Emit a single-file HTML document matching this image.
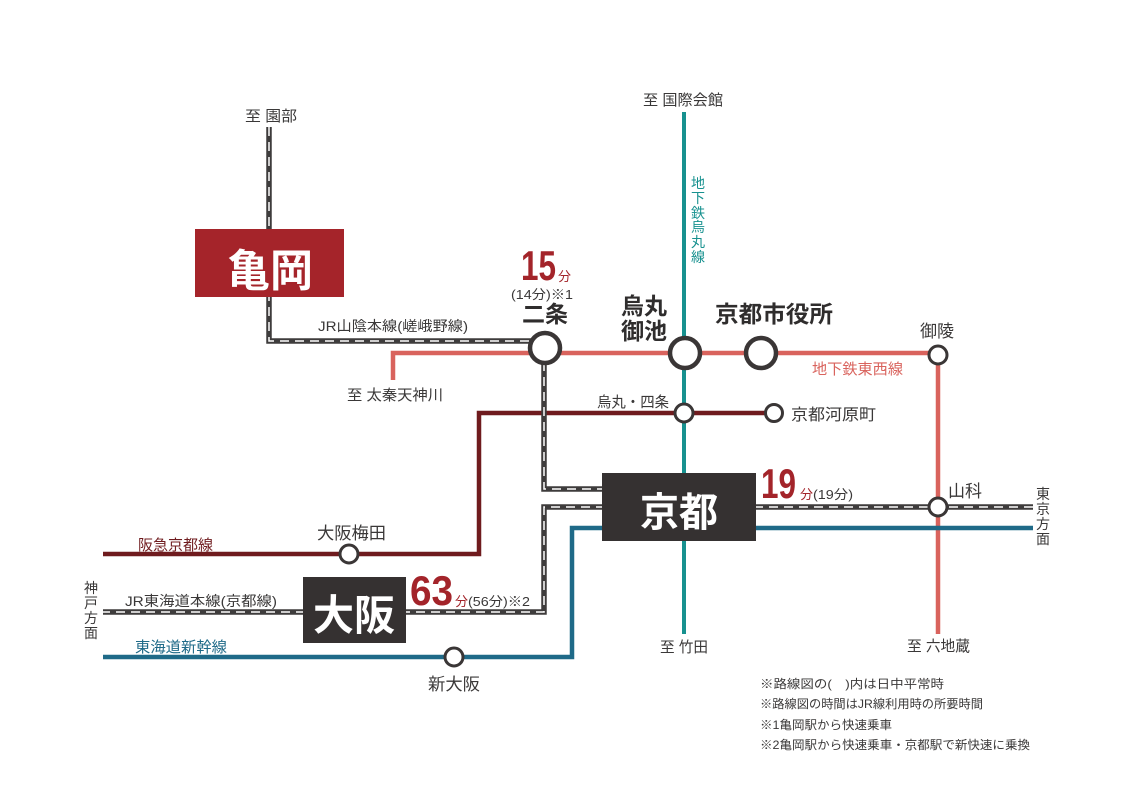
<!DOCTYPE html>
<html><head><meta charset="utf-8"><style>
html,body{margin:0;padding:0;background:#fff;}
svg{display:block;}
text{font-family:"Liberation Sans","Noto Sans CJK JP",sans-serif;fill:#3a3838;}
.num{font-family:"Liberation Sans",sans-serif;font-weight:bold;fill:#a3242a;}
.red{fill:#a3242a;}
.wt{fill:#fff;font-weight:bold;}
.st{font-weight:600;fill:#2f2d2d;}
</style></head><body>
<svg width="1121" height="800" viewBox="0 0 1121 800" xmlns="http://www.w3.org/2000/svg">
<rect width="1121" height="800" fill="#fff"/>
<!-- Subway Tozai (salmon) -->
<path d="M393,380 V353 H938 V634" fill="none" stroke="#d9635d" stroke-width="4.5"/>
<!-- Subway Karasuma (teal) -->
<path d="M684,112 V634" fill="none" stroke="#17918f" stroke-width="4"/>
<!-- Hankyu -->
<path d="M103,554 H479 V413 H774" fill="none" stroke="#6f1b1e" stroke-width="4.5"/>
<!-- Shinkansen -->
<path d="M103,657 H572 V528 H1033" fill="none" stroke="#1f6a88" stroke-width="4.5"/>
<!-- JR lines -->
<g fill="none">
<path d="M269,127 V341 H532" stroke="#3e3c3c" stroke-width="5.5"/>
<path d="M269,127 V341 H532" stroke="#fff" stroke-width="1.5" stroke-dasharray="9 6"/>
<path d="M544,362 V489 H605" stroke="#3e3c3c" stroke-width="5.5"/>
<path d="M544,362 V489 H605" stroke="#fff" stroke-width="1.5" stroke-dasharray="9 6"/>
<path d="M605,507 H544 V612 H103" stroke="#3e3c3c" stroke-width="5.5"/>
<path d="M605,507 H544 V612 H103" stroke="#fff" stroke-width="1.5" stroke-dasharray="9 6"/>
<path d="M754,507 H1033" stroke="#3e3c3c" stroke-width="5.5"/>
<path d="M754,507 H1033" stroke="#fff" stroke-width="1.5" stroke-dasharray="9 6"/>
</g>
<!-- Boxes -->
<rect x="195" y="229" width="149" height="68" fill="#a5242a"/>
<rect x="602" y="473" width="154" height="68" fill="#353131"/>
<rect x="303" y="577" width="103" height="66" fill="#353131"/>
<text x="270" y="286" class="wt" font-size="44" text-anchor="middle" textLength="86" lengthAdjust="spacingAndGlyphs">亀岡</text>
<text x="679" y="526" class="wt" font-size="40" text-anchor="middle" textLength="78" lengthAdjust="spacingAndGlyphs">京都</text>
<text x="354" y="630" class="wt" font-size="42" text-anchor="middle" textLength="82" lengthAdjust="spacingAndGlyphs">大阪</text>
<!-- Stations -->
<g fill="#fff" stroke="#3a3636">
<circle cx="545" cy="348" r="15" stroke-width="4.5"/>
<circle cx="685" cy="353" r="15" stroke-width="4.5"/>
<circle cx="761" cy="353" r="15" stroke-width="4.5"/>
<circle cx="938" cy="355" r="9" stroke-width="3"/>
<circle cx="684" cy="413" r="9" stroke-width="3"/>
<circle cx="774" cy="413" r="8.5" stroke-width="3"/>
<circle cx="938" cy="507" r="9" stroke-width="3"/>
<circle cx="349" cy="554" r="9" stroke-width="3"/>
<circle cx="454" cy="657" r="9" stroke-width="3"/>
</g>
<!-- Labels -->
<text x="245" y="121" font-size="15" textLength="52" lengthAdjust="spacingAndGlyphs">至 園部</text>
<text x="643" y="105" font-size="15" textLength="80" lengthAdjust="spacingAndGlyphs">至 国際会館</text>
<g font-size="14" text-anchor="middle" style="fill:#17918f">
<text x="698" y="188" style="fill:#17918f">地</text>
<text x="698" y="203" style="fill:#17918f">下</text>
<text x="698" y="218" style="fill:#17918f">鉄</text>
<text x="698" y="232" style="fill:#17918f">烏</text>
<text x="698" y="247" style="fill:#17918f">丸</text>
<text x="698" y="262" style="fill:#17918f">線</text>
</g>
<text x="318" y="331" font-size="14" textLength="150" lengthAdjust="spacingAndGlyphs">JR山陰本線(嵯峨野線)</text>
<text x="347" y="400" font-size="15" textLength="96" lengthAdjust="spacingAndGlyphs">至 太秦天神川</text>
<text x="521" y="280" class="num" font-size="42" textLength="35" lengthAdjust="spacingAndGlyphs">15</text>
<text x="558" y="281" class="red" font-size="13">分</text>
<text x="511" y="299" font-size="13" textLength="62" lengthAdjust="spacingAndGlyphs">(14分)※1</text>
<text x="522" y="322" class="st" font-size="23" textLength="46" lengthAdjust="spacingAndGlyphs">二条</text>
<text x="621" y="314" class="st" font-size="23" textLength="46" lengthAdjust="spacingAndGlyphs">烏丸</text>
<text x="621" y="339" class="st" font-size="23" textLength="46" lengthAdjust="spacingAndGlyphs">御池</text>
<text x="715" y="322" class="st" font-size="23" textLength="118" lengthAdjust="spacingAndGlyphs">京都市役所</text>
<text x="920" y="337" font-size="17" textLength="34" lengthAdjust="spacingAndGlyphs">御陵</text>
<text x="812" y="374" font-size="15" style="fill:#d9635d" textLength="91" lengthAdjust="spacingAndGlyphs">地下鉄東西線</text>
<text x="597" y="407" font-size="15" textLength="72" lengthAdjust="spacingAndGlyphs">烏丸・四条</text>
<text x="791" y="420" font-size="16" textLength="85" lengthAdjust="spacingAndGlyphs">京都河原町</text>
<text x="761" y="498" class="num" font-size="42" textLength="35" lengthAdjust="spacingAndGlyphs">19</text>
<text x="800" y="499" class="red" font-size="13">分</text>
<text x="813" y="499" font-size="13" textLength="40" lengthAdjust="spacingAndGlyphs">(19分)</text>
<text x="948" y="497" font-size="17" textLength="34" lengthAdjust="spacingAndGlyphs">山科</text>
<g font-size="14" text-anchor="middle">
<text x="1043" y="499">東</text>
<text x="1043" y="514">京</text>
<text x="1043" y="529">方</text>
<text x="1043" y="544">面</text>
</g>
<g font-size="14" text-anchor="middle">
<text x="91" y="593">神</text>
<text x="91" y="608">戸</text>
<text x="91" y="623">方</text>
<text x="91" y="638">面</text>
</g>
<text x="138" y="550" font-size="15" style="fill:#6f1b1e" textLength="75" lengthAdjust="spacingAndGlyphs">阪急京都線</text>
<text x="317" y="539" font-size="17" textLength="69" lengthAdjust="spacingAndGlyphs">大阪梅田</text>
<text x="125" y="606" font-size="14" textLength="152" lengthAdjust="spacingAndGlyphs">JR東海道本線(京都線)</text>
<text x="410" y="605" class="num" font-size="42" textLength="43" lengthAdjust="spacingAndGlyphs">63</text>
<text x="455" y="606" class="red" font-size="13">分</text>
<text x="468" y="606" font-size="13" textLength="62" lengthAdjust="spacingAndGlyphs">(56分)※2</text>
<text x="135" y="652" font-size="15" style="fill:#1f6a88" textLength="92" lengthAdjust="spacingAndGlyphs">東海道新幹線</text>
<text x="428" y="690" font-size="17" textLength="52" lengthAdjust="spacingAndGlyphs">新大阪</text>
<text x="660" y="652" font-size="15" textLength="48" lengthAdjust="spacingAndGlyphs">至 竹田</text>
<text x="907" y="651" font-size="15" textLength="63" lengthAdjust="spacingAndGlyphs">至 六地蔵</text>
<g font-size="12">
<text x="760" y="688" textLength="184" lengthAdjust="spacingAndGlyphs">※路線図の(　)内は日中平常時</text>
<text x="760" y="708" textLength="223" lengthAdjust="spacingAndGlyphs">※路線図の時間はJR線利用時の所要時間</text>
<text x="760" y="729" textLength="132" lengthAdjust="spacingAndGlyphs">※1亀岡駅から快速乗車</text>
<text x="760" y="749" textLength="270" lengthAdjust="spacingAndGlyphs">※2亀岡駅から快速乗車・京都駅で新快速に乗換</text>
</g>
</svg>
</body></html>
